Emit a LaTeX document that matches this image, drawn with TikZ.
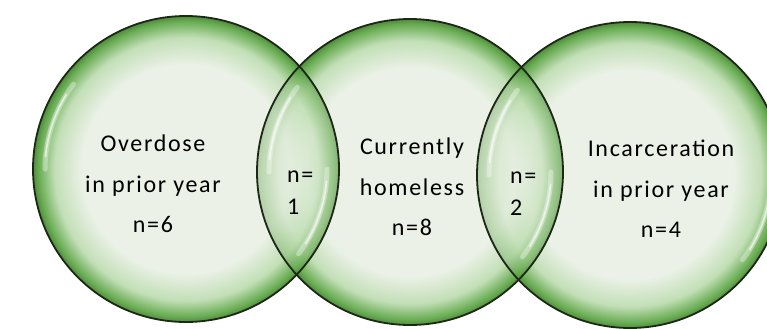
\documentclass[tikz,border=0pt]{standalone}
\usepackage{fontspec}
\setmainfont{Carlito}[LetterSpace=7]
\usepackage{tikz}
\usetikzlibrary{positioning,calc}
\definecolor{vnpale}{HTML}{EBF1E7}
\definecolor{vnmid}{HTML}{C2DFB6}
\definecolor{vngreen}{HTML}{66AB50}
\definecolor{vnedge}{HTML}{1A2814}
\pgfdeclareradialshading{vennbubble}{\pgfpoint{0bp}{0bp}}{%
  color(0bp)=(vnpale); color(17bp)=(vnpale); color(21.5bp)=(vnmid);
  color(24.2bp)=(vngreen); color(25bp)=(vngreen!80!black); color(50bp)=(vngreen!80!black)}
\tikzset{
  bubble/.style={shading=vennbubble},
  overlap/.style={shading=vennbubble, opacity=0.65},
  rim/.style={draw=vnedge, line width=1.8bp},
  gloss/.style={white, line width=5bp, opacity=0.35, line cap=round},
  glosscore/.style={white, line width=1.8bp, opacity=0.6, line cap=round},
  setlabel/.style={font=\fontsize{24bp}{40.5bp}\selectfont, align=center, text=black},
  lenslabel/.style={font=\fontsize{24bp}{32bp}\selectfont, align=left, text=black, anchor=west, inner sep=0pt}
}
\begin{document}
\begin{tikzpicture}[x=1bp, y=1bp]

% === Canvas ===
\useasboundingbox (0,0) rectangle (767,328);
\clip (0,0) rectangle (767,328);

% === Circle centres ===
\coordinate (cOver) at (186,159);
\coordinate (cHome) at (410,156);
\coordinate (cJail) at (630,153);

% === Circles ===
\shade[bubble] (cOver) circle (153bp);
\shade[bubble] (cHome) circle (153bp);
\shade[bubble] (cJail) circle (153bp);

% === Overlaps ===
\begin{scope}
  \clip (cHome) circle (153bp);
  \shade[overlap] (cOver) circle (153bp);
\end{scope}
\begin{scope}
  \clip (cJail) circle (153bp);
  \shade[overlap] (cHome) circle (153bp);
\end{scope}

% === Gloss streaks ===
\foreach \c in {cOver,cHome,cJail}{
  \draw[gloss] ($(\c)+(143:141bp)$) arc (143:180:141bp);
  \draw[glosscore] ($(\c)+(148:141bp)$) arc (148:175:141bp);
  \draw[gloss] ($(\c)+(323:141bp)$) arc (323:360:141bp);
  \draw[glosscore] ($(\c)+(328:141bp)$) arc (328:355:141bp);
}

% === Rims ===
\draw[rim] (cOver) circle (153bp);
\draw[rim] (cHome) circle (153bp);
\draw[rim] (cJail) circle (153bp);

% === Labels ===
\node[setlabel] (overdose) at (153,144) {Overdose\\in prior year\\n=6};
\node[setlabel] (homeless) at (412,141) {Currently\\homeless\\n=8};
\node[setlabel] (jail) at (661,139) {Incarceration\\in prior year\\n=4};
\node[lenslabel] (overhome) at (287,135) {n=\\1};
\node[lenslabel] (homejail) at (510,134) {n=\\2};

\end{tikzpicture}
\end{document}
